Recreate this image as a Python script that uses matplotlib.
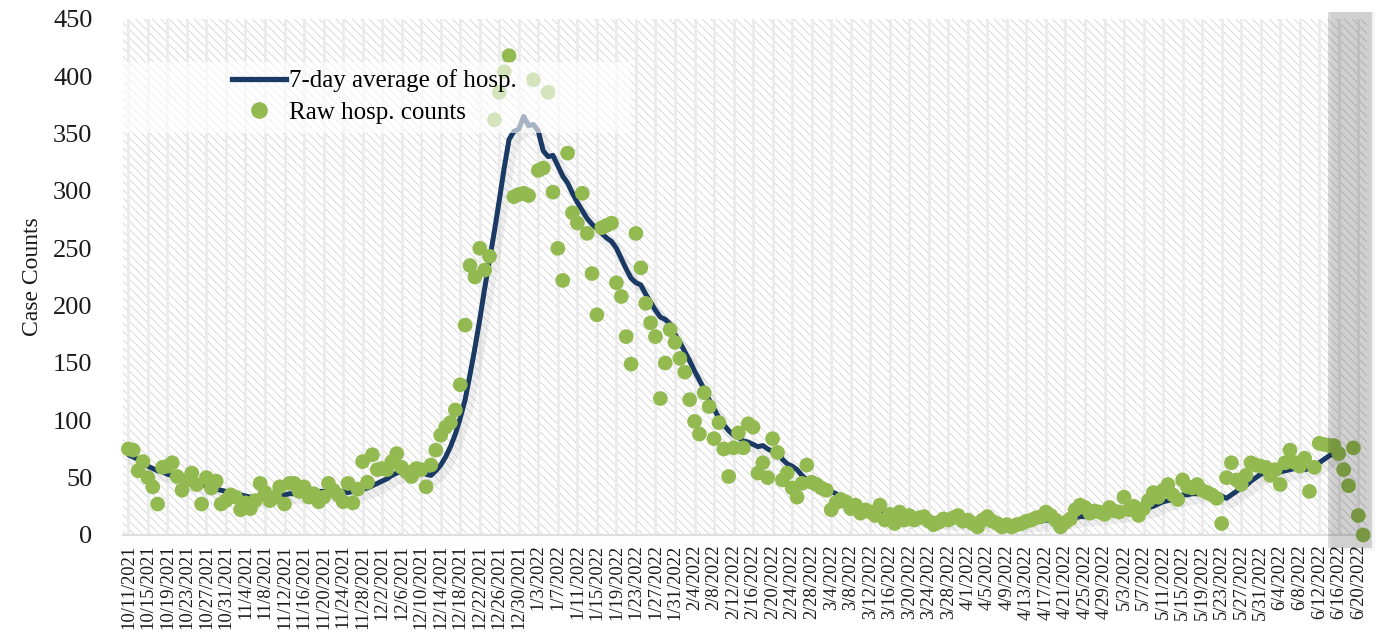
import numpy as np
import pandas as pd
import matplotlib
matplotlib.use("Agg")
from matplotlib import pyplot as plt
import matplotlib.dates as mdates
import matplotlib.patheffects as pe
import matplotlib.transforms as mtransforms
from matplotlib.patches import Rectangle
from matplotlib.lines import Line2D

# Daily raw hospitalisation counts, starting 10/11/2021
start_date = "2021-10-11"
raw_oct = [75, 74, 56, 64, 50, 42, 27, 59, 60, 63, 51, 39, 48, 54, 44, 27, 50, 41, 47, 27, 30]
raw_nov = [35, 33, 22, 28, 23, 30, 45, 37, 30, 33, 42, 27, 45, 45, 38, 42, 33, 36, 29, 33,
           45, 39, 35, 29, 45, 28, 40, 64, 46, 70]
raw_dec = [57, 58, 57, 64, 71, 59, 55, 51, 58, 57, 42, 61, 74, 87, 94, 98, 109, 131, 183, 235,
           225, 250, 231, 243, 362, 386, 404, 418, 295, 297, 298]
raw_jan = [296, 397, 318, 320, 386, 299, 250, 222, 333, 281, 272, 298, 263, 228, 192, 268, 270, 272, 220, 208,
           173, 149, 263, 233, 202, 185, 173, 119, 150, 179, 168]
raw_feb = [154, 142, 118, 99, 88, 124, 112, 84, 98, 75, 51, 76, 89, 76, 97, 94, 54, 63, 50, 84,
           72, 48, 54, 41, 33, 45, 61, 46]
raw_mar = [44, 41, 39, 22, 28, 31, 29, 23, 26, 19, 22, 20, 17, 26, 13, 18, 10, 20, 13, 17,
           13, 15, 16, 12, 9, 11, 14, 13, 15, 17, 12]
raw_apr = [13, 10, 7, 13, 16, 12, 10, 7, 9, 7, 9, 10, 12, 13, 15, 16, 20, 17, 13, 7,
           11, 14, 22, 26, 24, 19, 21, 20, 18, 24]
raw_may = [21, 20, 33, 22, 25, 17, 23, 30, 37, 33, 39, 44, 35, 31, 48, 42, 41, 44, 39, 37,
           35, 32, 10, 50, 63, 48, 44, 52, 63, 61, 60]
raw_jun = [59, 52, 57, 44, 63, 74, 63, 60, 67, 38, 59, 80, 79, 78, 78, 71, 57, 43, 76, 17, 0]

# 7-day average, same start date, ends 6/15/2022
avg_oct = [70, 68, 66, 63, 60, 58, 56, 55, 53, 52, 50, 49, 47, 46, 45, 44, 43, 42, 40, 39, 38]
avg_nov = [37, 36, 35, 34, 33, 33, 32, 33, 33, 34, 35, 35, 36, 36, 36, 37, 37, 38, 38, 38,
           37, 37, 38, 38, 37, 38, 39, 40, 41, 43]
avg_dec = [45, 47, 49, 52, 54, 56, 57, 57, 56, 55, 53, 52, 56, 61, 68, 77, 88, 102, 118, 140,
           163, 188, 215, 240, 265, 292, 320, 345, 352, 354, 365]
avg_jan = [357, 358, 352, 335, 330, 331, 322, 313, 307, 298, 290, 283, 276, 271, 267, 263, 259, 256, 250, 241,
           232, 224, 220, 218, 210, 203, 196, 190, 188, 184, 175]
avg_feb = [168, 160, 152, 143, 135, 127, 118, 110, 102, 96, 91, 87, 85, 82, 81, 79, 77, 78, 75, 73,
           75, 66, 62, 60, 57, 52, 48, 46]
avg_mar = [44, 43, 41, 38, 36, 33, 30, 27, 25, 24, 23, 22, 21, 21, 20, 20, 19, 18, 17, 17,
           16, 16, 15, 15, 14, 14, 14, 13, 13, 13, 13]
avg_apr = [13, 12, 12, 12, 12, 11, 11, 11, 11, 11, 11, 11, 11, 12, 12, 12, 13, 13, 14, 14,
           14, 15, 15, 16, 16, 17, 17, 18, 18, 19]
avg_may = [19, 20, 20, 21, 22, 22, 23, 24, 25, 27, 29, 30, 31, 33, 35, 35, 36, 36, 37, 37,
           37, 36, 34, 32, 35, 38, 41, 43, 47, 50, 53]
avg_jun = [54, 54, 55, 55, 56, 57, 58, 59, 57, 58, 61, 63, 66, 69, 71]

raw_counts = raw_oct + raw_nov + raw_dec + raw_jan + raw_feb + raw_mar + raw_apr + raw_may + raw_jun
avg_counts = avg_oct + avg_nov + avg_dec + avg_jan + avg_feb + avg_mar + avg_apr + avg_may + avg_jun

dates = pd.date_range(start_date, periods=len(raw_counts), freq="D")
avg_dates = dates[:len(avg_counts)]
tick_dates = dates[::4]
tick_labels = [f"{d.month}/{d.day}/{d.year}" for d in tick_dates]

# incomplete-data window at the end
shade_start = pd.Timestamp("2022-06-13 18:00")
shade_end = pd.Timestamp("2022-06-22 20:00")

navy = "#1a3a64"
green = "#92ba50"
text_color = "#1a1a1a"

plt.rcParams["font.family"] = ["Liberation Serif", "DejaVu Serif"]
plt.rcParams["hatch.linewidth"] = 0.6

fig = plt.figure(figsize=(13.89, 6.35), dpi=100)
ax = fig.add_axes([0.0886, 0.1575, 0.8956, 0.8126])

# hatched plot background
ax.add_patch(Rectangle((0, 0), 1, 1, transform=ax.transAxes, facecolor="white",
                       edgecolor="#d3d3d3", hatch="\\\\\\\\", lw=0, zorder=0))

ax.plot(avg_dates, avg_counts, color=navy, lw=3.6, solid_capstyle="round", zorder=2,
        path_effects=[pe.SimpleLineShadow(offset=(3, -4), shadow_color="#888888", alpha=0.13, linewidth=7),
                      pe.Normal()])
ax.scatter(dates, raw_counts, s=112, color=green, edgecolor="none", zorder=3, clip_on=False)

# translucent legend panel
ax.add_patch(Rectangle((0, 0.779), 0.408, 0.138, transform=ax.transAxes, facecolor="white",
                       alpha=0.62, lw=0, zorder=4))

# grey window over the last days
trans = mtransforms.blended_transform_factory(ax.transData, ax.transAxes)
x0 = mdates.date2num(shade_start)
x1 = mdates.date2num(shade_end)
ax.add_patch(Rectangle((x0 + 0.6, -0.032), x1 - x0, 1.045, transform=trans, facecolor="black",
                       alpha=0.04, lw=0, clip_on=False, zorder=5))
ax.add_patch(Rectangle((x0, -0.025), x1 - x0, 1.039, transform=trans, facecolor="black",
                       alpha=0.15, lw=0, clip_on=False, zorder=6))

handles = [Line2D([], [], color=navy, lw=3.8),
           Line2D([], [], marker="o", ls="none", markersize=12, markerfacecolor=green, markeredgecolor="none")]
ax.legend(handles, ["7-day average of hosp.", "Raw hosp. counts"], loc="center left",
          bbox_to_anchor=(0.0876, 0.85), frameon=False, fontsize=18, borderpad=0, borderaxespad=0,
          handlelength=2.15, handletextpad=0.12, labelspacing=0.35).set_zorder(7)

ax.set_xlim(dates[0] - pd.Timedelta(hours=26), dates[-1] + pd.Timedelta(hours=19))
ax.set_ylim(0, 450)
ax.set_yticks(np.arange(0, 451, 50))
ax.set_xticks(tick_dates)
ax.set_xticklabels(tick_labels, rotation=90, fontsize=13.3, color=text_color)
ax.tick_params(axis="y", length=0, pad=22, labelsize=19, labelcolor=text_color)
ax.tick_params(axis="x", length=0, pad=7)

ax.set_axisbelow(True)
ax.grid(axis="x", color="#ebebeb", lw=2)
ax.grid(axis="y", visible=False)

for side in ["top", "right", "left"]:
    ax.spines[side].set_visible(False)
ax.spines["bottom"].set_color("#dedede")
ax.spines["bottom"].set_linewidth(1.5)

ax.set_ylabel("Case Counts", fontsize=17, color=text_color)
ax.yaxis.set_label_coords(-0.064, 0.5)

fig.savefig("out.png", dpi=100)
